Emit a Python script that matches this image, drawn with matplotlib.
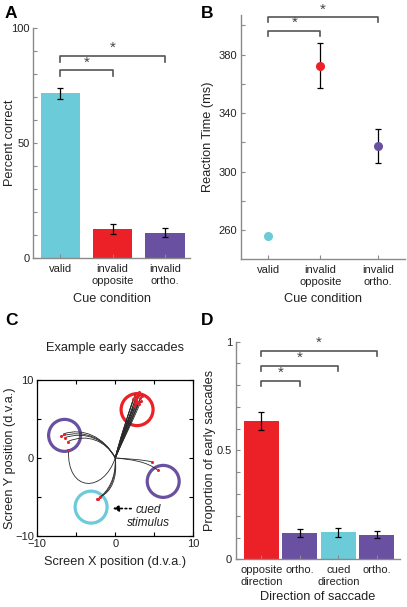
import numpy as np
import matplotlib.pyplot as plt
from matplotlib.path import Path
from matplotlib.patches import PathPatch, Circle

plt.rcParams['font.family'] = ['Liberation Sans', 'DejaVu Sans']

CYAN = '#6ccbd9'
RED = '#ec2027'
PURPLE = '#6950a1'
GREY = '#8a8a8a'
TXT = '#222222'
TICK_FS = 8
LAB_FS = 9.2

# Panel A: percent correct
a_labels = ['valid', 'invalid\nopposite', 'invalid\northo.']
a_values = [71.5, 12.6, 11.0]
a_errors = [2.2, 2.3, 1.9]
a_colors = [CYAN, RED, PURPLE]

# Panel B: reaction time
b_labels = ['valid', 'invalid\nopposite', 'invalid\northo.']
b_pos = [1, 2, 3.1]
b_values = [256, 372.5, 317.5]
b_errors = [0, 15.2, 11.6]
b_colors = [CYAN, RED, PURPLE]

# Panel C: target circles (x, y) and saccade paths (c1x, c1y, c2x, c2y, ex, ey)
c_targets = [(2.8, 6.2), (-6.5, 2.9), (6.15, -3.0), (-3.1, -6.3)]
c_target_colors = [RED, PURPLE, PURPLE, CYAN]
c_radius = 2.05
sacc_red = [
    (0.5, 2.0, 1.5, 4.6, 2.4, 6.7), (0.6, 2.1, 1.6, 4.8, 2.5, 7.0),
    (0.6, 2.2, 1.7, 5.0, 2.6, 7.3), (0.7, 2.2, 1.8, 5.2, 2.7, 7.6),
    (0.7, 2.3, 1.9, 5.4, 2.8, 7.9), (0.8, 2.4, 2.0, 5.7, 2.9, 8.2),
    (0.8, 2.4, 2.1, 5.9, 3.0, 8.4), (0.8, 2.3, 2.2, 5.6, 3.1, 8.1),
    (0.9, 2.2, 2.3, 5.3, 3.2, 7.7), (0.9, 2.1, 2.4, 5.0, 3.3, 7.3),
    (0.6, 2.4, 1.7, 5.8, 2.6, 8.3), (0.8, 2.1, 2.0, 5.0, 2.9, 7.2),
    (0.9, 2.0, 2.1, 4.8, 3.0, 6.9), (0.6, 2.3, 1.6, 5.5, 2.5, 7.9),
    (0.9, 2.3, 2.4, 5.6, 3.4, 8.0), (0.5, 2.1, 1.5, 5.1, 2.3, 7.5),
    (0.7, 2.0, 1.9, 4.9, 2.7, 7.1), (0.6, 2.2, 1.8, 5.3, 2.6, 7.7),
]
sacc_left = [
    (-1.4, 2.6, -4.0, 3.7, -6.9, 2.8), (-1.3, 2.4, -3.8, 3.5, -6.5, 2.6),
    (-1.2, 2.2, -3.6, 3.2, -6.1, 2.1), (-1.5, 2.8, -4.2, 3.9, -6.6, 3.1),
]
sacc_loop = [(-1.5, -4.5, -6.2, -4.5, -6.0, 1.0)]
sacc_right = [(1.5, -0.1, 3.5, -0.2, 4.7, -0.5), (2.0, -0.2, 4.0, -0.4, 5.5, -1.6)]
sacc_cued = [
    (0.1, -2.5, -0.8, -4.2, -2.2, -5.2), (0.3, -2.6, -0.5, -4.4, -2.0, -5.0),
    (0.2, -3.0, -1.0, -4.6, -2.3, -5.3),
]

# Panel D: proportion of early saccades
d_labels = ['opposite\ndirection', 'ortho.', 'cued\ndirection', 'ortho.']
d_values = [0.635, 0.119, 0.124, 0.113]
d_errors = [0.042, 0.018, 0.02, 0.015]
d_colors = [RED, PURPLE, CYAN, PURPLE]


def style_axes(ax):
    for s in ['top', 'right']:
        ax.spines[s].set_visible(False)
    for s in ['left', 'bottom']:
        ax.spines[s].set_color(GREY)
        ax.spines[s].set_linewidth(1.0)
    ax.tick_params(which='both', direction='in', color=GREY, labelsize=TICK_FS,
                   labelcolor=TXT, length=3, width=0.8, pad=2.5)
    ax.tick_params(axis='x', pad=4)


def labels(ax, xlab, ylab, xy, yx):
    ax.set_xlabel(xlab, fontsize=LAB_FS, color=TXT, va='center')
    ax.set_ylabel(ylab, fontsize=LAB_FS, color=TXT, va='center')
    ax.xaxis.set_label_coords(0.5, xy)
    ax.yaxis.set_label_coords(yx, 0.5)


def bracket(ax, x1, x2, y, h):
    ax.plot([x1, x1, x2, x2], [y - h, y, y, y - h], color='#555555', lw=1.2,
            clip_on=False)
    ax.text((x1 + x2) / 2, y + h * 0.2, '*', ha='center', va='bottom',
            fontsize=11, color='#444444')


fig = plt.figure(figsize=(4.07, 6.07), dpi=100)

# ---- A
axA = fig.add_axes([0.081, 0.575, 0.386, 0.379])
xa = np.arange(1, len(a_values) + 1)
axA.bar(xa, a_values, width=0.75, color=a_colors)
axA.errorbar(xa, a_values, yerr=a_errors, fmt='none', ecolor='black',
             elinewidth=0.9, capsize=2.2, capthick=0.9)
axA.set_xlim(0.48, 3.48)
axA.set_ylim(0, 100)
axA.set_yticks([0, 50, 100])
axA.set_yticks(np.arange(0, 101, 10), minor=True)
axA.set_xticks(xa)
axA.set_xticklabels(a_labels, linespacing=1.3)
style_axes(axA)
labels(axA, 'Cue condition', 'Percent correct', -0.178, -0.146)
bracket(axA, 1, 2, 81.5, 2.5)
bracket(axA, 1, 3, 87.7, 2.5)

# ---- B
axB = fig.add_axes([0.591, 0.573, 0.403, 0.402])
for x, v, e, c in zip(b_pos, b_values, b_errors, b_colors):
    if e > 0:
        axB.errorbar(x, v, yerr=e, fmt='none', ecolor='black', elinewidth=0.9,
                     capsize=2.2, capthick=0.9)
    axB.plot(x, v, 'o', color=c, markersize=5.5)
axB.set_xlim(0.47, 3.61)
axB.set_ylim(240, 407)
axB.set_yticks([260, 300, 340, 380])
axB.set_yticks(np.arange(260, 401, 20), minor=True)
axB.set_xticks(b_pos)
axB.set_xticklabels(b_labels, linespacing=1.3)
style_axes(axB)
labels(axB, 'Cue condition', 'Reaction Time (ms)', -0.165, -0.2)
bracket(axB, 1, 2, 396.4, 3.5)
bracket(axB, 1, 3.1, 405.5, 3.5)

# ---- C
axC = fig.add_axes([0.0917, 0.117, 0.383, 0.257])
for (cx, cy), col in zip(c_targets, c_target_colors):
    axC.add_patch(Circle((cx, cy), c_radius, fill=False, ec=col, lw=2.3))
codes = [Path.MOVETO, Path.CURVE4, Path.CURVE4, Path.CURVE4]
for group in [sacc_red, sacc_left, sacc_loop, sacc_right, sacc_cued]:
    for c1x, c1y, c2x, c2y, ex, ey in group:
        p = Path([(0, 0), (c1x, c1y), (c2x, c2y), (ex, ey)], codes)
        axC.add_patch(PathPatch(p, fill=False, ec='#2a2a2a', lw=0.6))
        axC.plot(ex, ey, 'o', color=RED, markersize=2.2, mec='none')
axC.annotate('', xy=(-0.7, -6.45), xytext=(2.4, -6.5),
             arrowprops=dict(arrowstyle='-|>', color='black', lw=1.2,
                             linestyle=':', mutation_scale=9))
axC.text(4.2, -6.7, 'cued', style='italic', fontsize=8.5, ha='center',
         va='center', color=TXT)
axC.text(4.2, -8.3, 'stimulus', style='italic', fontsize=8.5, ha='center',
         va='center', color=TXT)
axC.set_xlim(-10, 10)
axC.set_ylim(-10, 10)
axC.set_xticks([-10, 0, 10])
axC.set_yticks([-10, 0, 10])
axC.set_xticks([-5, 5], minor=True)
axC.set_yticks([-5, 5], minor=True)
axC.tick_params(which='both', direction='in', top=True, right=True,
                labelsize=TICK_FS, labelcolor=TXT, length=3, width=0.8, pad=2.5)
for s in axC.spines.values():
    s.set_linewidth(0.9)
axC.set_title('Example early saccades', fontsize=LAB_FS, color=TXT,
              y=1.149, va='center')
labels(axC, 'Screen X position (d.v.a.)', 'Screen Y position (d.v.a.)',
       -0.165, -0.175)

# ---- D
axD = fig.add_axes([0.579, 0.0786, 0.403, 0.3585])
xd = np.arange(1, len(d_values) + 1)
axD.bar(xd, d_values, width=0.91, color=d_colors)
axD.errorbar(xd, d_values, yerr=d_errors, fmt='none', ecolor='black',
             elinewidth=0.9, capsize=2.2, capthick=0.9)
axD.set_xlim(0.33, 4.59)
axD.set_ylim(0, 1)
axD.set_yticks([0, 0.5, 1])
axD.set_yticklabels(['0', '0.5', '1'])
axD.set_yticks(np.arange(0, 1.01, 0.1), minor=True)
axD.set_xticks(xd)
axD.set_xticklabels(d_labels, linespacing=1.3)
style_axes(axD)
labels(axD, 'Direction of saccade', 'Proportion of early saccades', -0.172, -0.157)
bracket(axD, 1, 2, 0.821, 0.025)
bracket(axD, 1, 3, 0.888, 0.025)
bracket(axD, 1, 4, 0.958, 0.025)

# panel letters
for lab, x, y in [('A', 11, 13), ('B', 207, 13), ('C', 12, 321), ('D', 207, 321)]:
    fig.text(x / 407, 1 - y / 607, lab, fontsize=12.5, fontweight='bold',
             ha='center', va='center')

fig.savefig('out.png', dpi=100)
